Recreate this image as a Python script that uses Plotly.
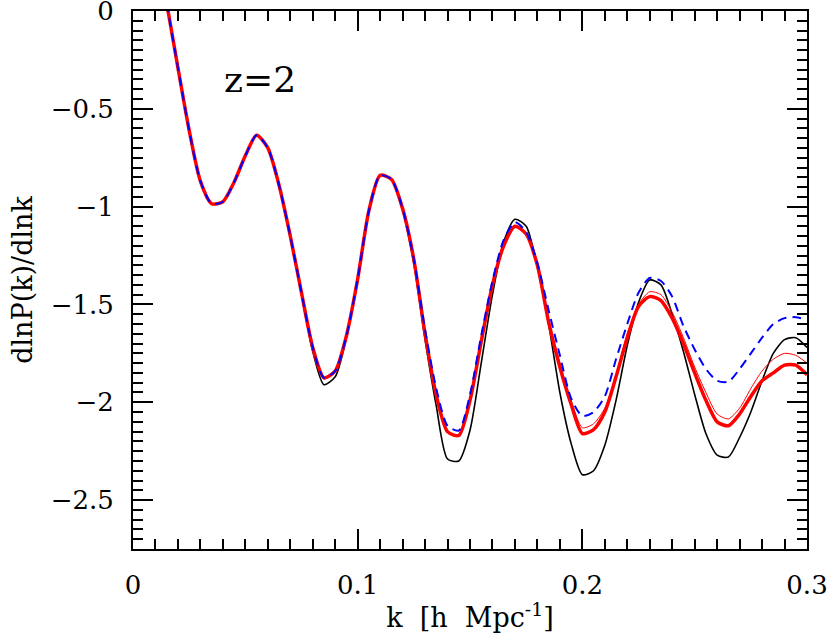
import plotly.graph_objects as go

k = [0.015, 0.020, 0.025, 0.030, 0.035, 0.040, 0.045, 0.050, 0.055, 0.060,
     0.065, 0.070, 0.075, 0.080, 0.085, 0.090, 0.095, 0.100, 0.105, 0.110,
     0.115, 0.120, 0.125, 0.130, 0.135, 0.140, 0.145, 0.150, 0.155, 0.160,
     0.165, 0.170, 0.175, 0.180, 0.185, 0.190, 0.195, 0.200, 0.205, 0.210,
     0.215, 0.220, 0.225, 0.230, 0.235, 0.240, 0.245, 0.250, 0.255, 0.260,
     0.265, 0.270, 0.275, 0.280, 0.285, 0.290, 0.295, 0.300]

black = [0.04, -0.29, -0.61, -0.87, -0.985, -0.975, -0.875, -0.74, -0.635, -0.70,
         -0.89, -1.16, -1.45, -1.74, -1.91, -1.87, -1.67, -1.37, -1.02, -0.84,
         -0.86, -1.02, -1.29, -1.68, -2.02, -2.29, -2.30, -2.143, -1.80, -1.45,
         -1.18, -1.065, -1.10, -1.31, -1.60, -1.95, -2.21, -2.37, -2.35, -2.22,
         -1.99, -1.71, -1.49, -1.375, -1.40, -1.55, -1.74, -1.96, -2.16, -2.27,
         -2.28, -2.18, -2.05, -1.89, -1.75, -1.68, -1.67, -1.72]

red_thick = [0.04, -0.29, -0.61, -0.87, -0.985, -0.975, -0.875, -0.74, -0.635, -0.70,
             -0.89, -1.15, -1.44, -1.72, -1.875, -1.84, -1.66, -1.37, -1.02, -0.84,
             -0.86, -1.01, -1.27, -1.65, -1.965, -2.15, -2.17, -1.99, -1.69, -1.40,
             -1.20, -1.10, -1.14, -1.30, -1.59, -1.82, -2.01, -2.16, -2.14, -2.05,
             -1.87, -1.67, -1.51, -1.46, -1.48, -1.57, -1.70, -1.85, -1.99, -2.10,
             -2.12, -2.06, -1.97, -1.89, -1.85, -1.81, -1.81, -1.86]

red_thin = [0.04, -0.29, -0.61, -0.87, -0.985, -0.975, -0.875, -0.74, -0.635, -0.70,
            -0.89, -1.15, -1.44, -1.72, -1.875, -1.84, -1.66, -1.37, -1.02, -0.84,
            -0.86, -1.01, -1.27, -1.65, -1.965, -2.15, -2.17, -1.99, -1.69, -1.40,
            -1.20, -1.10, -1.14, -1.30, -1.58, -1.80, -1.99, -2.13, -2.11, -2.03,
            -1.86, -1.65, -1.50, -1.435, -1.45, -1.54, -1.67, -1.82, -1.95, -2.06,
            -2.085, -2.03, -1.93, -1.84, -1.78, -1.75, -1.76, -1.80]

blue = [0.04, -0.29, -0.61, -0.87, -0.985, -0.975, -0.875, -0.74, -0.635, -0.70,
        -0.89, -1.15, -1.44, -1.72, -1.875, -1.84, -1.66, -1.37, -1.02, -0.84,
        -0.86, -1.01, -1.27, -1.63, -1.93, -2.12, -2.145, -1.96, -1.66, -1.38,
        -1.17, -1.08, -1.13, -1.29, -1.53, -1.76, -1.98, -2.07, -2.05, -1.97,
        -1.78, -1.60, -1.44, -1.365, -1.38, -1.46, -1.61, -1.73, -1.83, -1.89,
        -1.895, -1.83, -1.75, -1.67, -1.60, -1.57, -1.565, -1.58]

x_ticks = [0, 0.1, 0.2, 0.3]
x_ticktext = ["0", "0.1", "0.2", "0.3"]
y_ticks = [0, -0.5, -1, -1.5, -2, -2.5]
y_ticktext = ["0", "\u22120.5", "\u22121", "\u22121.5", "\u22122", "\u22122.5"]
label_text = "z=2"

FONT = "DejaVu Serif"

fig = go.Figure()
fig.add_trace(go.Scatter(x=k, y=black, mode="lines",
                         line=dict(color="black", width=1.6, shape="spline", smoothing=0.7)))
fig.add_trace(go.Scatter(x=k, y=red_thin, mode="lines",
                         line=dict(color="red", width=1.0, shape="spline", smoothing=0.7)))
fig.add_trace(go.Scatter(x=k, y=red_thick, mode="lines",
                         line=dict(color="red", width=3.5, shape="spline", smoothing=0.7)))
fig.add_trace(go.Scatter(x=k, y=blue, mode="lines",
                         line=dict(color="blue", width=2, dash="9px,6px",
                                   shape="spline", smoothing=0.7)))

fig.add_annotation(x=0.0565, y=-0.35, xref="x", yref="y", text=label_text,
                   showarrow=False, font=dict(family=FONT, size=36, color="black"))

axis_common = dict(
    showgrid=False, zeroline=False, showline=True, linecolor="black", linewidth=2,
    mirror="allticks", ticks="inside", ticklen=20, tickwidth=1.5, tickcolor="black",
    tickfont=dict(family=FONT, size=26, color="black"),
    ticklabelstandoff=12, ticklabeloverflow="allow", automargin=False,
)

fig.update_xaxes(
    range=[0, 0.3], tickvals=x_ticks, ticktext=x_ticktext,
    minor=dict(ticks="inside", ticklen=10, tickwidth=1.5, tickcolor="black", dtick=0.01,
               tick0=0, showgrid=False),
    title=dict(text="k  [h  Mpc<sup>-1</sup>]", font=dict(family=FONT, size=27, color="black"),
               standoff=10),
    **axis_common,
)
fig.update_yaxes(
    range=[-2.75, 0], tickvals=y_ticks, ticktext=y_ticktext,
    minor=dict(ticks="inside", ticklen=10, tickwidth=1.5, tickcolor="black", dtick=0.05,
               tick0=0, showgrid=False),
    title=dict(text="dlnP(k)/dlnk", font=dict(family=FONT, size=27, color="black"),
               standoff=10),
    **axis_common,
)

fig.update_layout(
    width=830, height=633,
    margin=dict(l=133, r=23, t=11, b=84, autoexpand=False),
    paper_bgcolor="white", plot_bgcolor="white",
    showlegend=False,
)

fig.write_html("out.html", config={"displayModeBar": False},
               post_script="document.body.style.margin='0';document.body.style.overflow='hidden';")
